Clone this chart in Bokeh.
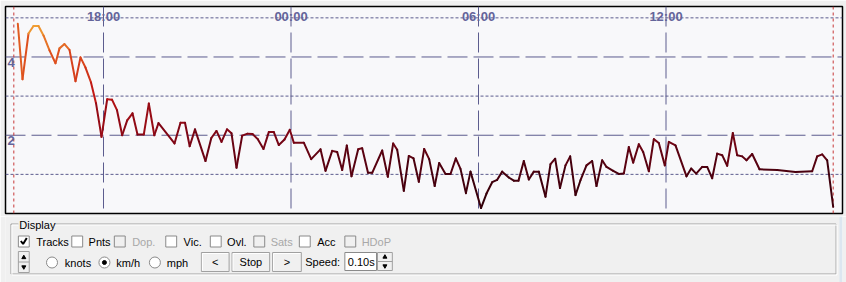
from bokeh.plotting import figure
from bokeh.models import Range1d, Span
from bokeh.layouts import column
from bokeh.embed import file_html
from bokeh.resources import INLINE
from bokeh.core.properties import value

# ---------------- data ----------------
hours = [15.258, 15.408, 15.600, 15.760, 15.920, 16.080, 16.272, 16.464, 16.592, 16.752,
         16.912, 17.104, 17.264, 17.424, 17.600, 17.760, 17.936, 18.118, 18.272, 18.432,
         18.598, 18.758, 18.928, 19.088, 19.290, 19.450, 19.626, 19.760, 20.272, 20.464,
         20.608, 20.758, 20.928, 21.264, 21.450, 21.616, 21.776, 21.952, 22.096, 22.256,
         22.438, 22.608, 22.768, 22.938, 23.120, 23.290, 23.450, 23.610, 23.792, 23.962,
         24.090, 24.410, 24.646, 24.944, 25.104, 25.318, 25.478, 25.638, 25.786, 25.936,
         26.150, 26.278, 26.464, 26.598, 26.918, 27.098, 27.270, 27.398, 27.610, 27.770,
         27.920, 28.090, 28.262, 28.422, 28.598, 28.742, 28.944, 29.104, 29.274, 29.424,
         29.597, 29.744, 30.080, 30.256, 30.438, 30.598, 30.758, 30.970, 31.130, 31.280,
         31.450, 31.610, 31.770, 31.930, 32.144, 32.304, 32.454, 32.608, 32.784, 32.934,
         33.104, 33.264, 33.456, 33.638, 33.776, 33.958, 34.096, 34.310, 34.490, 34.650,
         34.810, 34.950, 35.130, 35.270, 35.450, 35.610, 35.770, 35.962, 36.090, 36.304,
         36.656, 36.806, 36.966, 37.158, 37.318, 37.478, 37.638, 37.798, 37.958, 38.138,
         38.278, 38.438, 38.576, 38.758, 38.992, 39.558, 40.144, 40.678, 40.838, 40.998,
         41.158, 41.350]
speed = [4.85, 3.43, 4.60, 4.79, 4.79, 4.55, 4.17, 3.84, 4.22, 4.33,
         4.18, 3.38, 3.99, 3.73, 3.35, 2.82, 1.96, 2.92, 2.91, 2.64,
         2.00, 2.38, 2.56, 2.02, 2.02, 2.81, 2.00, 2.31, 1.79, 2.32,
         2.32, 1.72, 2.15, 1.34, 1.93, 2.11, 1.83, 2.15, 2.05, 1.17,
         1.99, 2.04, 2.03, 1.90, 1.65, 2.08, 2.08, 1.75, 1.89, 2.14,
         1.81, 1.81, 1.39, 1.64, 1.09, 1.60, 1.57, 1.11, 1.74, 0.95,
         1.64, 1.67, 1.04, 1.04, 1.61, 0.94, 1.79, 1.63, 0.58, 1.47,
         1.41, 0.81, 1.65, 1.39, 0.70, 1.29, 1.01, 1.01, 1.41, 1.14,
         0.52, 1.07, 0.14, 0.51, 0.80, 0.86, 1.07, 0.92, 0.84, 0.84,
         1.34, 0.87, 1.07, 1.07, 0.43, 1.26, 1.40, 0.65, 1.23, 1.46,
         0.47, 0.85, 1.23, 1.34, 0.70, 1.36, 1.19, 1.09, 1.01, 1.02,
         1.70, 1.30, 1.77, 1.57, 1.08, 1.90, 1.80, 1.23, 1.83, 1.74,
         0.95, 1.15, 1.02, 1.19, 1.19, 0.90, 1.53, 1.49, 1.22, 2.06,
         1.49, 1.46, 1.36, 1.52, 1.13, 1.11, 1.06, 1.08, 1.46, 1.51,
         1.36, 0.17]
time_ticks = [18, 24, 30, 36]
time_labels = ["18:00", "00:00", "06:00", "12:00"]
speed_major = [2, 4]
speed_major_labels = ["2", "4"]
speed_minor = [1, 3, 5]
marker_start = 15.130
marker_end = 41.350

# ---------------- colours by speed ----------------
stops = [(0.0, (40, 0, 6)), (1.0, (70, 0, 14)), (2.0, (125, 6, 22)),
         (3.0, (190, 20, 20)), (4.0, (222, 78, 30)), (4.8, (240, 160, 50))]


def colour(v):
    if v <= stops[0][0]:
        c = stops[0][1]
    elif v >= stops[-1][0]:
        c = stops[-1][1]
    else:
        for (a, ca), (b, cb) in zip(stops[:-1], stops[1:]):
            if a <= v <= b:
                t = (v - a) / (b - a)
                c = tuple(int(round(ca[k] + t * (cb[k] - ca[k]))) for k in range(3))
                break
    return "#%02x%02x%02x" % c


seg_cols = [colour((a + b) / 2) for a, b in zip(speed[:-1], speed[1:])]

GRID = "#5c5c8e"
FONT = "Liberation Sans"

# ---------------- chart ----------------
p = figure(width=846, height=216, x_range=Range1d(14.864, 41.648), y_range=Range1d(0, 5.29),
           x_axis_location=None, y_axis_location=None, toolbar_location=None,
           output_backend="svg", min_border_left=5, min_border_right=4,
           min_border_top=6, min_border_bottom=3)
p.grid.visible = False
p.background_fill_color = "#f8f8fa"
p.border_fill_color = "#f0f0f0"
p.outline_line_color = "black"
p.outline_line_width = 1.5

for v in speed_minor:
    p.add_layout(Span(location=v, dimension="width", line_color=GRID, line_dash="3 2",
                      line_width=1, level="underlay"))
for v in speed_major:
    p.add_layout(Span(location=v, dimension="width", line_color=GRID, line_dash="20 6",
                      line_width=1, level="underlay"))
for t in time_ticks:
    p.add_layout(Span(location=t, dimension="height", line_color=GRID, line_dash="20 6",
                      line_width=1, level="underlay"))
for t in (marker_start, marker_end):
    p.add_layout(Span(location=t, dimension="height", line_color="#c83838", line_dash="3 3",
                      line_width=1, level="underlay"))

p.segment(x0=hours[:-1], y0=speed[:-1], x1=hours[1:], y1=speed[1:], line_color=seg_cols,
          line_width=2, line_cap="round")

p.text(x=time_ticks, y=[5.29] * len(time_ticks), text=time_labels, text_align="center",
       text_baseline="top", y_offset=2, text_font=value(FONT), text_font_size="13px",
       text_font_style="bold", text_color="#64649a")
p.text(x=[14.864] * len(speed_major), y=speed_major, text=speed_major_labels,
       text_align="left", text_baseline="top", x_offset=2, y_offset=1, text_font=value(FONT),
       text_font_size="13px", text_font_style="bold", text_color="#64649a")

# ---------------- control panel (pixel coordinates) ----------------
ui = figure(width=846, height=66, x_range=Range1d(0, 846), y_range=Range1d(282, 216),
            x_axis_location=None, y_axis_location=None, toolbar_location=None,
            output_backend="svg", min_border=0)
ui.grid.visible = False
ui.outline_line_color = None
ui.background_fill_color = "#f0f0f0"
ui.border_fill_color = "#f0f0f0"

TXT = dict(text_font=value(FONT), text_font_size="11px", text_baseline="middle")

# right window edge
ui.quad(left=843, right=846, top=216, bottom=282, fill_color="#dce6f0", line_color=None)

# group box (etched)
ui.line(x=[13, 5.5, 5.5, 839.5, 839.5, 50], y=[223.5, 223.5, 273.5, 273.5, 223.5, 223.5],
        line_color="#a0a0a0", line_width=1)
ui.line(x=[13, 6.5, 6.5, 840.5, 840.5, 50], y=[224.5, 224.5, 274.5, 274.5, 224.5, 224.5],
        line_color="#ffffff", line_width=1)
ui.text(x=[14], y=[224], text=["Display"], text_color="#000000", **TXT)

# checkboxes
cb_x = [13, 67, 110, 162, 207, 251, 297, 343]
cb_lab = ["Tracks", "Pnts", "Dop.", "Vic.", "Ovl.", "Sats", "Acc", "HDoP"]
cb_lx = [31, 84, 128, 180, 224, 268, 315, 360]
cb_en = [True, True, False, True, True, False, True, False]
for x, lab, lx, en in zip(cb_x, cb_lab, cb_lx, cb_en):
    ui.quad(left=x, right=x + 11, top=235.5, bottom=246.5,
            fill_color="#ffffff" if en else "#f0f0f0", line_color="#8a8a8a", line_width=1)
    ui.text(x=[lx], y=[241], text=[lab], text_color="#000000" if en else "#a8a8a8", **TXT)
ui.line(x=[15.5, 17.8, 21.5], y=[240.5, 243.5, 237.5], line_color="#000000", line_width=2)

# up/down spinner at left
ui.quad(left=13, right=24, top=251, bottom=272, fill_color="#f0f0f0", line_color="#a0a0a0")
ui.line(x=[13, 24], y=[261.5, 261.5], line_color="#a0a0a0")
ui.scatter(x=[18.5], y=[257], marker="triangle", size=4, color="#000000")
ui.scatter(x=[18.5], y=[266.5], marker="inverted_triangle", size=4, color="#000000")

# radio buttons
rb_x = [47, 100, 151]
rb_lab = ["knots", "km/h", "mph"]
rb_lx = [60, 112, 163]
ui.scatter(x=rb_x, y=[262] * 3, size=11, fill_color="#ffffff", line_color="#8a8a8a")
ui.scatter(x=[100], y=[262], size=4, color="#000000")
ui.text(x=rb_lx, y=[262] * 3, text=rb_lab, text_color="#000000", **TXT)

# buttons
bt_l = [198, 229, 270]
bt_r = [226, 267, 299]
bt_t = ["<", "Stop", ">"]
for l, r, t in zip(bt_l, bt_r, bt_t):
    ui.quad(left=l, right=r, top=252, bottom=271, fill_color="#f0f0f0", line_color="#a0a0a0")
    ui.line(x=[l + 1, l + 1, r - 1], y=[270, 253, 253], line_color="#ffffff")
    ui.text(x=[(l + r) / 2], y=[261.5], text=[t], text_color="#000000", text_align="center",
            **TXT)

ui.text(x=[303], y=[261.5], text=["Speed:"], text_color="#000000", **TXT)
ui.quad(left=343, right=375, top=252, bottom=270, fill_color="#ffffff", line_color="#8a8a8a")
ui.text(x=[346], y=[261], text=["0.10s"], text_color="#000000", **TXT)
ui.quad(left=376, right=391, top=252, bottom=270, fill_color="#f0f0f0", line_color="#a0a0a0")
ui.line(x=[376, 391], y=[261, 261], line_color="#a0a0a0")
ui.scatter(x=[383.5], y=[256.5], marker="triangle", size=4, color="#000000")
ui.scatter(x=[383.5], y=[265.5], marker="inverted_triangle", size=4, color="#000000")

layout = column(p, ui, spacing=0)
open("out.html", "w").write(file_html(layout, INLINE))
